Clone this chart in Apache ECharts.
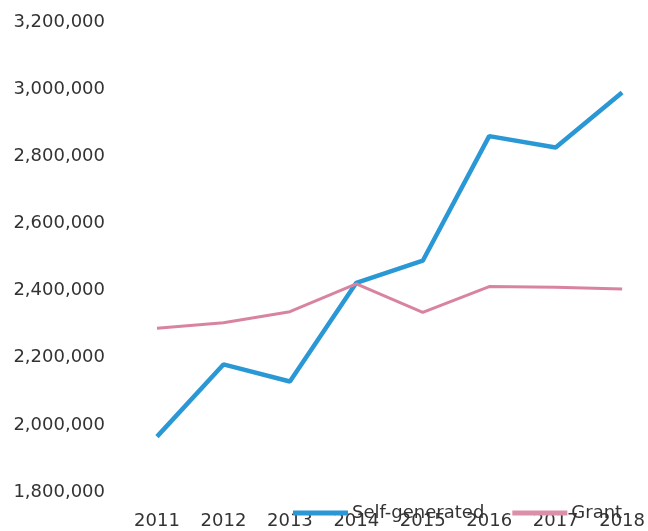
<!DOCTYPE html>
<html>
<head>
<meta charset="utf-8">
<script src="https://cdn.jsdelivr.net/npm/echarts@6/dist/echarts.min.js"></script>
<style>
  html, body { margin: 0; padding: 0; background: #fff; }
  #chart { width: 648px; height: 531px; }
</style>
</head>
<body>
<div id="chart"></div>
<script>
// values
const years = ['2011', '2012', '2013', '2014', '2015', '2016', '2017', '2018'];
const selfGenerated = [1965000, 2180000, 2129000, 2423000, 2489000, 2860000, 2826000, 2990000];
const grant = [2288000, 2304000, 2337000, 2420000, 2335000, 2412000, 2410000, 2405000];

const textColor = '#333333';
const font = 'DejaVu Sans';

const chart = echarts.init(document.getElementById('chart'));

chart.setOption({
    backgroundColor: '#fff',
    animation: false,
    textStyle: { fontFamily: font },
    legend: {
        data: ['Self-generated', 'Grant'],
        left: 288,
        top: 499,
        icon: 'rect',
        itemWidth: 55,
        itemHeight: 5,
        itemGap: 28,
        textStyle: { color: textColor, fontSize: 18, fontFamily: font, padding: [0, 0, 0, -1] }
    },
    grid: {
        left: 157,
        right: 23,
        top: 22,
        bottom: 39
    },
    xAxis: {
        type: 'category',
        data: years,
        boundaryGap: false,
        axisLine: { show: false },
        axisTick: { show: false },
        axisLabel: { color: textColor, fontSize: 18, margin: 20, fontFamily: font }
    },
    yAxis: {
        type: 'value',
        min: 1800000,
        max: 3200000,
        interval: 200000,
        axisLine: { show: false },
        axisTick: { show: false },
        splitLine: { show: false },
        axisLabel: {
            color: textColor,
            fontSize: 18,
            margin: 52,
            fontFamily: font,
            formatter: v => v.toLocaleString('en-US')
        }
    },
    series: [
        {
            name: 'Self-generated',
            type: 'line',
            data: selfGenerated,
            symbol: 'none',
            itemStyle: { color: '#2b98d6' },
            lineStyle: { width: 4.5, color: '#2b98d6' }
        },
        {
            name: 'Grant',
            type: 'line',
            data: grant,
            symbol: 'none',
            itemStyle: { color: '#dc8fa8' },
            lineStyle: { width: 3, color: '#d9849f' }
        }
    ]
});
</script>
</body>
</html>
